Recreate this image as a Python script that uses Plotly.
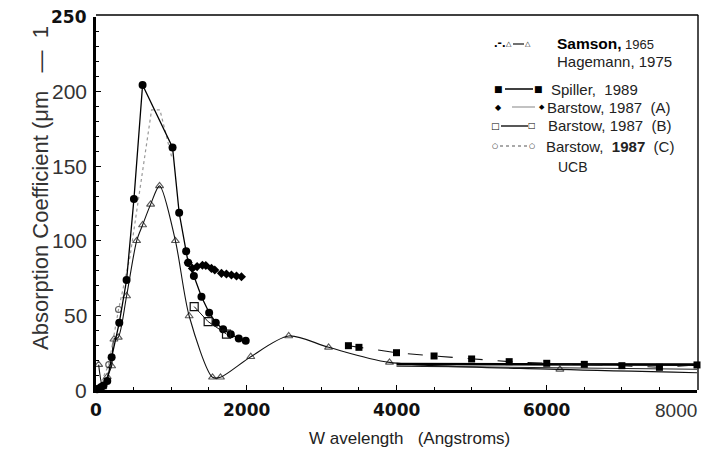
import plotly.graph_objects as go

# ---------------- data (wavelength in Angstroms, absorption in 1/um) ----------------
ucb_x = [15, 40, 70, 100, 150, 208, 310, 407, 505, 620, 1019, 1107, 1200, 1227,
         1303, 1404, 1506, 1595, 1692, 1794, 1900, 1993]
ucb_y = [0.5, 1.0, 2.0, 3.0, 6.0, 21.9, 45.1, 73.7, 128.0, 204.4, 162.6, 118.8, 93.0, 85.3,
         76.4, 62.5, 51.8, 45.1, 40.7, 37.3, 34.6, 33.0]

hagemann_x = [35, 90, 150, 208, 239, 296, 407, 541, 620, 727, 846, 1057, 1240, 1551,
              1657, 2060, 2565, 3096, 3907, 6175, 8000]
hagemann_y = [17.0, 2.0, 8.9, 16.1, 34.0, 35.3, 63.0, 100.0, 110.6, 124.4, 136.8, 100.0, 49.6, 8.5,
              8.5, 22.3, 36.2, 28.6, 18.5, 13.8, 11.6]

spiller_x = [3360, 3500, 4000, 4500, 5000, 5500, 6000, 6500, 7000, 7500, 8000]
spiller_y = [29.7, 28.6, 25.0, 22.8, 20.8, 19.0, 17.9, 17.2, 16.3, 15.2, 16.8]

barstow_a_x = [1227, 1283, 1346, 1417, 1462, 1537, 1581, 1670, 1736, 1803, 1870, 1936]
barstow_a_y = [85.3, 81.5, 82.7, 83.6, 83.4, 81.5, 80.4, 78.2, 77.7, 77.1, 76.4, 75.9]

barstow_b_x = [1307, 1493, 1737]
barstow_b_y = [55.9, 45.8, 37.5]

barstow_c_x = [40, 170, 300, 452, 740, 851, 1006]
barstow_c_y = [2.0, 17.0, 54.0, 89.2, 187.7, 187.7, 156.4]

long_x = [4000, 8000]
long_thick_y = [17.4, 17.0]
long_thin_y = [16.0, 13.9]

x_ticks = [0, 2000, 4000, 6000, 8000]
x_tick_labels = ["0", "2000", "4000", "6000", "8000"]
x_tick_bold = [True, True, True, True, False]
y_ticks = [0, 50, 100, 150, 200, 250]
y_tick_labels = ["0", "50", "100", "150", "200", "250"]
y_tick_bold = [False, False, False, False, False, True]

# ---------------- geometry helpers ----------------
W, H = 716, 472
L, R, T, B = 96, 19, 17, 82
PW, PH = W - L - R, H - T - B


def px(xp):
    return (xp - L) / PW


def py(yp):
    return (H - B - yp) / PH


fig = go.Figure()

# Hagemann curve (smooth, open triangles)
fig.add_trace(go.Scatter(
    x=hagemann_x, y=hagemann_y, mode="lines+markers",
    line=dict(color="#111", width=1.1, shape="spline", smoothing=0.8),
    marker=dict(symbol="triangle-up-open", size=[7] * (len(hagemann_x) - 1) + [0],
                color="#111", line=dict(width=1.1)),
    cliponaxis=False, showlegend=False))

# long-wavelength reference lines
fig.add_trace(go.Scatter(x=long_x, y=long_thin_y, mode="lines",
                         line=dict(color="#222", width=1.1), showlegend=False))
fig.add_trace(go.Scatter(x=long_x, y=long_thick_y, mode="lines",
                         line=dict(color="#000", width=2.6), showlegend=False))

# Barstow (C): dotted grey with small open circles
fig.add_trace(go.Scatter(
    x=barstow_c_x, y=barstow_c_y, mode="lines+markers",
    line=dict(color="#999", width=1.2, dash="dot"),
    marker=dict(symbol="circle-open", size=[0, 6, 6, 0, 0, 0, 0], color="#111",
                line=dict(width=1.1)),
    cliponaxis=False, showlegend=False))

# UCB: solid line, filled circles
fig.add_trace(go.Scatter(
    x=ucb_x, y=ucb_y, mode="lines+markers",
    line=dict(color="#000", width=1.3),
    marker=dict(symbol="circle", size=8, color="#000"),
    cliponaxis=False, showlegend=False))

# Barstow (A): grey line, small filled diamonds
fig.add_trace(go.Scatter(
    x=barstow_a_x, y=barstow_a_y, mode="lines+markers",
    line=dict(color="#777", width=1.0),
    marker=dict(symbol="diamond", size=7, color="#000"),
    cliponaxis=False, showlegend=False))

# Barstow (B): open squares
fig.add_trace(go.Scatter(
    x=barstow_b_x, y=barstow_b_y, mode="lines+markers",
    line=dict(color="#111", width=1.0),
    marker=dict(symbol="square-open", size=8, color="#111", line=dict(width=1.2)),
    cliponaxis=False, showlegend=False))

# Spiller: long dashes, filled squares
fig.add_trace(go.Scatter(
    x=spiller_x, y=spiller_y, mode="lines+markers",
    line=dict(color="#111", width=1.1, dash="longdash"),
    marker=dict(symbol="square", size=7, color="#000"),
    cliponaxis=False, showlegend=False))

fig.update_layout(
    width=W, height=H, autosize=False,
    margin=dict(l=L, r=R, t=T, b=B),
    paper_bgcolor="white", plot_bgcolor="white",
    font=dict(family="Liberation Sans", color="#222"),
    xaxis=dict(range=[0, 8000], showgrid=False, zeroline=False,
               showline=True, linecolor="#000", linewidth=2.6,
               ticks="inside", ticklen=5, tickwidth=1, tickcolor="#000",
               tickvals=x_ticks, showticklabels=False,
               minor=dict(dtick=500, ticks="inside", ticklen=3, tickcolor="#000")),
    yaxis=dict(range=[0, 250], showgrid=False, zeroline=False,
               showline=True, linecolor="#000", linewidth=2.6,
               ticks="inside", ticklen=5, tickwidth=1, tickcolor="#000",
               tickvals=y_ticks, showticklabels=False,
               minor=dict(dtick=10, ticks="inside", ticklen=3, tickcolor="#000")),
)

shapes = [
    # top and right frame edges (thinner than the axes)
    dict(type="line", xref="paper", yref="paper", x0=0, x1=1.002, y0=py(15), y1=py(15),
         line=dict(color="#000", width=1.4)),
    dict(type="line", xref="paper", yref="paper", x0=px(698), x1=px(698), y0=0, y1=py(15),
         line=dict(color="#000", width=1.4)),
]

ann = []

BOLD_TICK = dict(family="DejaVu Sans", size=17, color="#111", weight="bold")
LIGHT_TICK = dict(family="Liberation Sans", size=21, color="#333", weight="normal")

# tick labels (mixed bold / light faces)
for v, lab, bold in zip(x_ticks, x_tick_labels, x_tick_bold):
    ann.append(dict(xref="x", yref="paper", x=v, y=py(410), text=lab, showarrow=False,
                    xanchor="center", yanchor="middle",
                    xshift=0 if bold else -21,
                    font=BOLD_TICK if bold else dict(LIGHT_TICK, size=19)))
for v, lab, bold in zip(y_ticks, y_tick_labels, y_tick_bold):
    ann.append(dict(xref="paper", yref="y", x=px(89), y=v, text=lab, showarrow=False,
                    xanchor="right", yanchor="middle",
                    font=BOLD_TICK if bold else LIGHT_TICK))


def text(x, y, s, size=15, weight="normal", family="Liberation Sans", color="#222",
         anchor="left"):
    ann.append(dict(xref="paper", yref="paper", x=px(x), y=py(y), text=s, showarrow=False,
                    xanchor=anchor, yanchor="middle", borderpad=0,
                    font=dict(family=family, size=size, color=color, weight=weight)))


def seg(x0, x1, y, dash="solid", color="#111", width=1.2):
    shapes.append(dict(type="line", xref="paper", yref="paper", x0=px(x0), x1=px(x1),
                       y0=py(y), y1=py(y), line=dict(color=color, width=width, dash=dash)))


def glyph(x, y, g, size=9):
    text(x, y, g, size=size, family="DejaVu Sans", color="#000", anchor="center")


# legend block
text(493, 42, ".-.", size=13, weight="bold", color="#000")
glyph(509, 44, "△", 7)
seg(513, 524, 44)
glyph(528, 44, "△", 7)
text(556, 43, "Samson,", size=15.5, weight="bold", color="#000")
text(624, 44, "1965", size=13)
text(556, 62, "Hagemann, 1975", size=15)

glyph(498, 89, "■", 9)
seg(505, 533, 89, width=1.6)
glyph(538, 89, "■", 9)
text(550, 89, "Spiller,  1989", size=15)

glyph(498, 107, "◆", 8)
seg(512, 535, 107, color="#999", width=1.2)
glyph(542, 107, "◆", 7)
text(546, 107, "Barstow, 1987  (A)", size=15)

glyph(495, 126, "□", 9)
seg(501, 528, 126, width=1.4)
glyph(532, 126, "□", 8)
text(547, 126, "Barstow, 1987  (B)", size=15)

glyph(495, 146, "○", 7)
seg(500, 527, 146, dash="dot", color="#555", width=1.2)
glyph(532, 146, "○", 7)
text(545, 146, "Barstow,  <b>1987</b>  (C)", size=15)
text(557, 167, "UCB", size=14)

# axis titles
ann.append(dict(xref="paper", yref="paper", x=px(40), y=py(188),
                text="Absorption Coefficient (μm   —  1", textangle=-90, showarrow=False,
                xanchor="center", yanchor="middle",
                font=dict(family="Liberation Sans", size=22, color="#333")))
ann.append(dict(xref="paper", yref="paper", x=px(409), y=py(438),
                text="W avelength   (Angstroms)", showarrow=False,
                xanchor="center", yanchor="middle",
                font=dict(family="Liberation Sans", size=17, color="#222")))

fig.update_layout(shapes=shapes, annotations=ann)
fig.write_html("out.html")
